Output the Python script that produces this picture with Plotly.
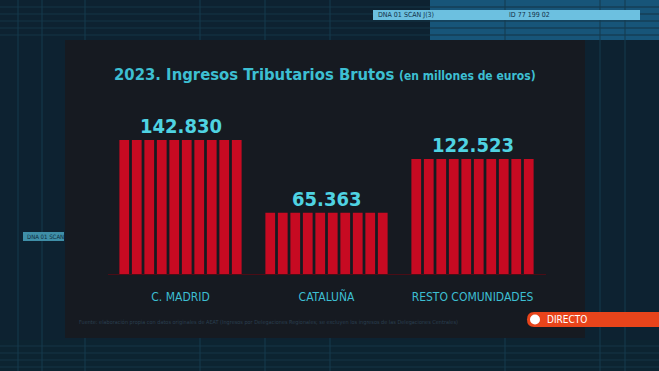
import plotly.graph_objects as go

# ---- data ----
categories = ["C. MADRID", "CATALUÑA", "RESTO COMUNIDADES"]
values = [142830, 65363, 122523]
value_labels = ["142.830", "65.363", "122.523"]
n_stripes = 10
title_main = "2023. Ingresos Tributarios Brutos"
title_sub = "(en millones de euros)"
source_text = ("Fuente: elaboración propia con datos originales de AEAT (Ingresos por Delegaciones "
               "Regionales; se excluyen los ingresos de las Delegaciones Centrales)")

W, H = 659, 371
FONT = "Liberation Sans Narrow, DejaVu Sans Condensed, Roboto, sans-serif"
CYAN = "#3dbfd2"
RED = "#c70a22"

def px(x):
    return x / W

def py(y):
    return 1 - y / H

fig = go.Figure()
for i in range(n_stripes):
    fig.add_trace(go.Bar(x=categories, y=values, marker=dict(color=RED, line=dict(width=0)),
                         showlegend=False, hoverinfo="skip"))

shapes = []
# background decorative elements
shapes.append(dict(type="rect", xref="paper", yref="paper", x0=px(430), x1=px(659), y0=py(40), y1=py(0),
                   fillcolor="#175579", line=dict(width=0), layer="below"))
shapes.append(dict(type="rect", xref="paper", yref="paper", x0=px(0), x1=px(659), y0=py(371), y1=py(340),
                   fillcolor="#0c2431", line=dict(width=0), layer="below"))
# faint texture lines of the TV background
for yy in [7, 14, 21, 28, 35, 346, 353, 360, 367]:
    shapes.append(dict(type="line", xref="paper", yref="paper", x0=0, x1=1, y0=py(yy), y1=py(yy),
                       line=dict(color="#143446", width=1), layer="below"))
for xx in [18, 42, 85, 200, 265, 330, 505, 600, 625]:
    shapes.append(dict(type="line", xref="paper", yref="paper", x0=px(xx), x1=px(xx), y0=0, y1=1,
                       line=dict(color="#143a4f", width=1), layer="below"))
shapes.append(dict(type="rect", xref="paper", yref="paper", x0=px(373), x1=px(640), y0=py(20), y1=py(10),
                   fillcolor="#6cc0e0", line=dict(width=0), layer="below"))
shapes.append(dict(type="rect", xref="paper", yref="paper", x0=px(23), x1=px(64), y0=py(241), y1=py(232),
                   fillcolor="#3f8fa8", line=dict(width=0), layer="below"))
# main dark panel
shapes.append(dict(type="rect", xref="paper", yref="paper", x0=px(65), x1=px(585), y0=py(338), y1=py(40),
                   fillcolor="#161a21", line=dict(width=0), layer="below"))
# DIRECTO badge
shapes.append(dict(type="path", xref="paper", yref="paper",
                   path=f"M {px(534)},{py(312)} L {px(665)},{py(312)} L {px(665)},{py(327)} L {px(534)},{py(327)} "
                        f"Q {px(527)},{py(327)} {px(527)},{py(319.5)} Q {px(527)},{py(312)} {px(534)},{py(312)} Z",
                   fillcolor="#e8441b", line=dict(width=0), layer="above"))
shapes.append(dict(type="circle", xref="paper", yref="paper", x0=px(530), x1=px(540), y0=py(324.5), y1=py(314.5),
                   fillcolor="white", line=dict(width=0), layer="above"))

annotations = []
for c, v, t in zip(categories, values, value_labels):
    annotations.append(dict(x=c, y=v, xref="x", yref="y", text=f"<b>{t}</b>", showarrow=False,
                            yanchor="bottom", yshift=0, font=dict(family=FONT, size=20, color="#4fd3e2")))
annotations.append(dict(x=px(325), y=py(75), xref="paper", yref="paper", showarrow=False,
                        text=f"<b>{title_main}</b> <span style='font-size:12px'><b>{title_sub}</b></span>",
                        font=dict(family=FONT, size=16.5, color=CYAN), xanchor="center", yanchor="middle"))
annotations.append(dict(x=px(77), y=py(322), xref="paper", yref="paper", showarrow=False, xanchor="left",
                        yanchor="middle", text=source_text,
                        font=dict(family=FONT, size=5.5, color="#2a3f50")))
annotations.append(dict(x=px(545), y=py(319.5), xref="paper", yref="paper", showarrow=False, xanchor="left",
                        yanchor="middle", text="DIRECTO", font=dict(family=FONT, size=10, color="white")))
annotations.append(dict(x=px(376), y=py(15), xref="paper", yref="paper", showarrow=False, xanchor="left",
                        yanchor="middle", text="DNA 01 SCAN J(3)", font=dict(family=FONT, size=7, color="#123048")))
annotations.append(dict(x=px(507), y=py(15), xref="paper", yref="paper", showarrow=False, xanchor="left",
                        yanchor="middle", text="ID 77 199 02", font=dict(family=FONT, size=7, color="#123048")))
annotations.append(dict(x=px(25), y=py(236.5), xref="paper", yref="paper", showarrow=False, xanchor="left",
                        yanchor="middle", text="DNA 01 SCAN", font=dict(family=FONT, size=6, color="#0d2a3a")))

fig.update_layout(
    width=W, height=H,
    margin=dict(l=0, r=0, t=0, b=0),
    paper_bgcolor="#0d2231",
    plot_bgcolor="rgba(0,0,0,0)",
    barmode="group",
    bargap=0.144,
    bargroupgap=0.22,
    showlegend=False,
    shapes=shapes,
    annotations=annotations,
    xaxis=dict(domain=[107.5 / W, 545.5 / W], showgrid=False, zeroline=False, showline=True,
               linecolor="#4a0d16", linewidth=1, ticks="", fixedrange=True,
               tickfont=dict(family=FONT, size=12, color=CYAN), ticklabelstandoff=12),
    yaxis=dict(domain=[1 - 274 / H, 1 - 40 / H], range=[0, 249500], showgrid=False, zeroline=False,
               showticklabels=False, showline=False, fixedrange=True),
)

fig.write_html("out.html", config={"displayModeBar": False},
               post_script="document.body.style.margin='0';document.body.style.padding='0';")
